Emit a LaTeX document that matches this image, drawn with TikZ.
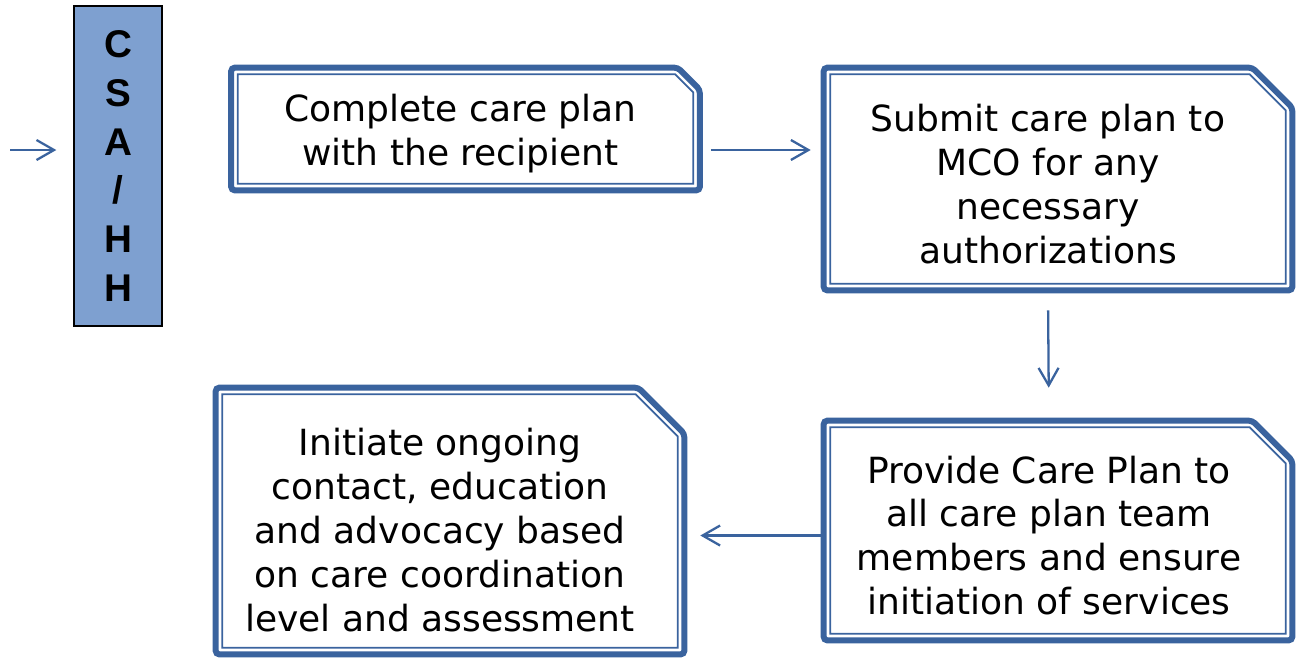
\documentclass[tikz,border=0pt]{standalone}
\usepackage{fontspec}
\setmainfont{DejaVu Sans}
\newfontfamily\csafont{Liberation Sans}
\usetikzlibrary{arrows.meta}
\definecolor{frameblue}{RGB}{58,99,158}
\definecolor{csafill}{RGB}{126,160,208}

\begin{document}
\begin{tikzpicture}[x=0.02cm, y=-0.02cm,
    careplan/.style={rectangle, minimum width=9.36cm, align=center, inner sep=0pt,
      font=\fontsize{20.5}{25}\selectfont},
    csabox/.style={draw=black, line width=0.8pt, fill=csafill, minimum width=1.76cm,
      minimum height=6.4cm, align=center, font=\csafont\bfseries\fontsize{22}{27.7}\selectfont},
    outerframe/.style={draw=frameblue, line width=3.4pt, rounded corners=2pt},
    innerframe/.style={draw=frameblue, line width=1pt},
    flow/.style={draw=frameblue, line width=1.3pt, -{Straight Barb[length=3.5mm,width=4mm]}}]
    \useasboundingbox (0,0) rectangle (1297,660);
    % nodes
    \coordinate (in) at (10,150);
    \node[csabox] (csa) at (118,166) {C\\S\\A\\/\\H\\H};
    \node[careplan, minimum height=2.44cm] (b1) at (460.5,134) {Complete care plan\\with the recipient};
    \node[careplan, minimum height=4.44cm] (b2) at (1048,184) {Submit care plan to\\MCO for any\\necessary\\authorizations};
    \node[careplan, minimum height=4.38cm] (b3) at (1049,535.5) {Provide Care Plan to\\all care plan team\\members and ensure\\initiation of services};
    \node[careplan, minimum height=5.32cm] (b4) at (440,530) {Initiate ongoing\\contact, education\\and advocacy based\\on care coordination\\level and assessment};
    % snipped double frames (offset from the text)
    \foreach \b/\c/\ox/\oy in {b1/22/5/-5,b2/40/10/-5,b3/40/9/-5,b4/46/10/-9}{
      \draw[outerframe] ([shift={(\ox,\oy)}]\b.south west) -- ([shift={(\ox,\oy)}]\b.north west)
        -- ([shift={({\ox-\c},\oy)}]\b.north east) -- ([shift={(\ox,{\oy+\c})}]\b.north east)
        -- ([shift={(\ox,\oy)}]\b.south east) -- cycle;
      \draw[innerframe] ([shift={({\ox+6.5},{\oy-6.5})}]\b.south west)
        -- ([shift={({\ox+6.5},{\oy+6.5})}]\b.north west)
        -- ([shift={({\ox-\c-2.7},{\oy+6.5})}]\b.north east)
        -- ([shift={({\ox-6.5},{\oy+\c+2.7})}]\b.north east)
        -- ([shift={({\ox-6.5},{\oy-6.5})}]\b.south east) -- cycle;
    }
    % arrows
    \draw[flow, shorten >=0.34cm] (in) -- (in -| csa.west);
    \draw[flow, shorten <=0.32cm, shorten >=0.06cm] (b1.east |- in) -- (b2.west |- in);
    \draw[flow, shorten <=0.3cm, shorten >=0.76cm] (b2.south) -- (b3.north);
    \draw[flow, shorten <=-0.14cm, shorten >=0.52cm] (b3.west) -- (b4.east |- b3.west);
\end{tikzpicture}
\end{document}
